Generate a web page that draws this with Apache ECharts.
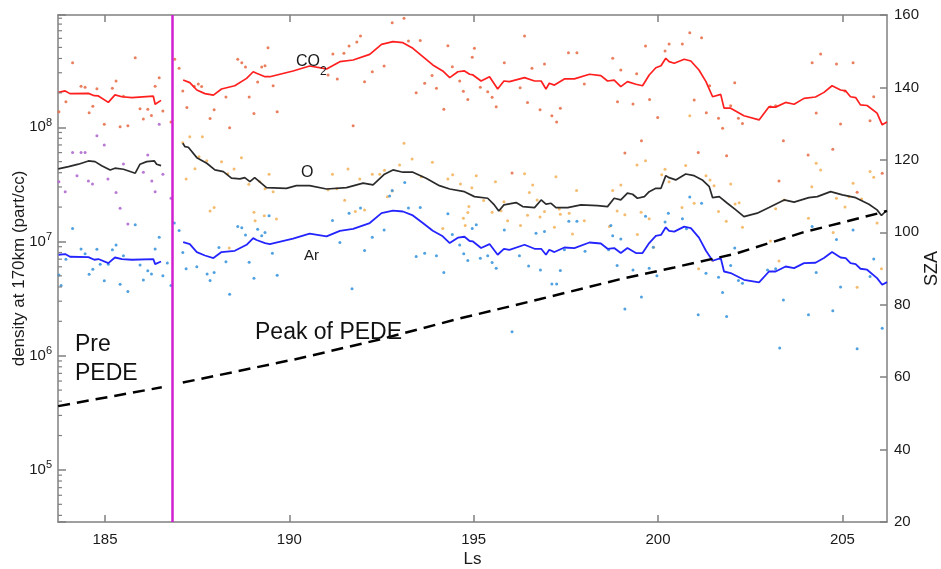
<!DOCTYPE html>
<html><head><meta charset="utf-8">
<script src="https://cdn.jsdelivr.net/npm/echarts@6/dist/echarts.min.js"></script>
<style>html,body{margin:0;padding:0;background:#fff}#c{width:941px;height:569px}</style>
</head><body><div id="c"></div>
<script>
// ---------- axis ranges / ticks ----------
const X_MIN = 183.725, X_MAX = 206.21;
const Y_MIN = 35010, Y_MAX = 9.61e8;
const SZA_MIN = 20, SZA_MAX = 160, SZA_STEP = 20;
const xTicks = [185, 190, 195, 200, 205];
const pedeStartLs = 186.82;

// ---------- smoothed lines (CO2 and Ar share Ls samples) ----------
const lineLs = [183.74,183.92,184.05,184.55,184.71,184.82,185.09,185.27,185.46,185.73,186.31,186.36,186.52,186.80,
187.12,187.30,187.49,187.71,187.94,188.16,188.52,188.84,189.02,189.11,189.34,189.47,190.10,190.55,191.01,191.37,191.73,
192.18,192.50,192.81,193.08,193.35,193.62,193.89,194.16,194.35,194.57,194.75,194.89,194.98,195.20,195.43,195.65,195.82,
195.97,196.38,196.65,196.83,196.96,197.05,197.19,197.46,197.73,198.14,198.45,198.63,198.81,198.99,199.17,199.40,199.58,
199.76,199.94,200.08,200.21,200.30,200.44,200.48,200.71,200.89,201.11,201.30,201.48,201.70,201.79,201.97,202.33,202.74,
203.01,203.19,203.46,203.69,203.96,204.27,204.50,204.72,204.95,205.09,205.22,205.36,205.49,205.67,205.94,206.08,206.21];
const co2Line = [2.02e8,2.08e8,1.97e8,1.98e8,1.89e8,1.88e8,1.65e8,1.92e8,1.85e8,1.82e8,1.87e8,1.59e8,1.72e8,null,
2.59e8,2.46e8,2.12e8,1.97e8,1.91e8,2.16e8,2.31e8,2.68e8,3.06e8,2.97e8,2.77e8,2.77e8,3.11e8,3.44e8,3.24e8,3.75e8,3.88e8,
4.35e8,5.32e8,5.61e8,5.50e8,4.91e8,4.15e8,3.51e8,3.11e8,2.72e8,3.06e8,3.11e8,2.91e8,2.87e8,2.54e8,2.77e8,2.16e8,2.54e8,
2.51e8,2.72e8,2.54e8,2.54e8,2.16e8,2.43e8,2.34e8,2.65e8,2.65e8,2.91e8,2.83e8,2.54e8,2.59e8,2.27e8,2.51e8,2.38e8,2.31e8,
2.87e8,3.32e8,3.46e8,4.02e8,3.75e8,3.63e8,3.56e8,3.94e8,3.80e8,3.17e8,2.51e8,1.85e8,1.94e8,1.47e8,1.47e8,1.26e8,1.16e8,
1.51e8,1.50e8,1.65e8,1.59e8,1.79e8,1.84e8,2.02e8,2.31e8,2.12e8,2.08e8,1.85e8,1.82e8,1.57e8,1.55e8,1.33e8,1.05e8,1.11e8];
const arLine = [7.65e6,7.76e6,7.35e6,7.30e6,6.92e6,7.02e6,6.47e6,7.24e6,7.02e6,6.92e6,7.02e6,6.34e6,6.68e6,null,
9.88e6,9.49e6,8.08e6,7.54e6,7.16e6,8.08e6,8.29e6,9.36e6,1.07e7,1.03e7,9.68e6,9.49e6,1.06e7,1.17e7,1.11e7,1.24e7,1.29e7,
1.45e7,1.77e7,1.86e7,1.83e7,1.69e7,1.45e7,1.24e7,1.11e7,9.68e6,1.08e7,1.10e7,1.01e7,1.00e7,8.76e6,9.49e6,7.65e6,8.63e6,
8.46e6,9.36e6,8.63e6,8.63e6,7.65e6,8.46e6,8.08e6,8.86e6,8.76e6,9.80e6,9.60e6,8.63e6,8.76e6,7.92e6,8.76e6,7.92e6,7.92e6,
9.68e6,1.12e7,1.14e7,1.33e7,1.24e7,1.22e7,1.21e7,1.35e7,1.31e7,1.08e7,8.29e6,6.78e6,7.16e6,5.46e6,5.29e6,4.62e6,4.38e6,
5.46e6,5.46e6,6.04e6,5.85e6,6.47e6,6.51e6,7.16e6,8.08e6,7.24e6,7.16e6,6.47e6,6.34e6,5.77e6,5.66e6,4.78e6,4.18e6,4.41e6];

const oLineLs = [183.73,184.01,184.28,184.55,184.73,184.91,185.14,185.27,185.50,185.82,185.95,186.13,186.34,186.40,186.52,186.80,
187.11,187.17,187.26,187.49,187.76,187.98,188.21,188.43,188.66,188.79,188.93,189.06,189.38,189.92,190.19,190.55,191.01,
191.55,192.00,192.27,192.58,192.81,193.08,193.35,193.71,194.07,194.35,194.75,195.02,195.38,195.56,195.68,195.82,196.15,
196.33,196.65,196.83,196.96,197.10,197.23,197.55,197.91,198.36,198.63,198.81,198.99,199.17,199.31,199.44,199.63,199.76,
199.94,200.08,200.21,200.30,200.48,200.75,200.98,201.20,201.39,201.48,201.66,201.88,202.11,202.33,202.69,203.01,203.42,
203.69,204.09,204.32,204.68,205.00,205.36,205.72,205.94,206.06,206.17];
const oLine = [4.32e7,4.52e7,4.75e7,5.07e7,5.00e7,4.61e7,4.23e7,4.38e7,4.29e7,3.96e7,4.75e7,5.00e7,5.07e7,4.75e7,4.61e7,null,
7.24e7,6.76e7,6.68e7,5.42e7,4.84e7,4.23e7,4.09e7,3.58e7,3.53e7,3.62e7,3.34e7,3.62e7,2.96e7,2.92e7,3.08e7,3.08e7,2.88e7,
2.96e7,3.24e7,3.13e7,3.88e7,4.23e7,4.04e7,4.04e7,3.58e7,3.08e7,2.88e7,2.73e7,2.47e7,2.39e7,2.09e7,1.85e7,2.09e7,2.19e7,
2.02e7,1.98e7,2.31e7,2.12e7,2.16e7,1.98e7,1.98e7,2.09e7,2.06e7,2.02e7,2.39e7,2.31e7,2.65e7,2.59e7,2.39e7,2.47e7,2.73e7,
2.92e7,2.92e7,3.77e7,3.62e7,3.46e7,3.90e7,3.77e7,3.46e7,3.02e7,2.42e7,2.47e7,2.16e7,1.89e7,1.65e7,1.77e7,1.98e7,2.31e7,
2.21e7,2.42e7,2.47e7,2.73e7,2.56e7,2.42e7,2.12e7,1.89e7,1.69e7,1.83e7];

// ---------- SZA (right axis) ----------
const szaLs = [183.73,186.54,186.80,187.11,190.28,192.45,194.62,196.78,198.95,200.44,202.11,203.91,206.08,206.21];
const sza   = [52.0,57.2,null,58.5,65.2,70.4,76.2,81.5,87.0,90.3,94.1,99.9,105.5,105.9];

// ---------- individual measurements ----------
const co2DotLs = [183.75,183.94,184.12,184.35,184.46,184.57,184.67,184.78,184.98,185.20,185.30,185.41,185.50,185.62,185.82,185.95,
186.04,186.16,186.26,186.36,186.47,186.57,186.79,186.89,187.01,187.11,187.22,187.42,187.53,187.62,187.85,187.96,188.28,188.38,
188.60,188.71,188.81,188.91,189.04,189.14,189.25,189.34,189.42,189.56,189.67,191.05,191.18,191.30,191.48,191.62,191.73,191.83,
191.93,192.04,192.25,192.57,192.79,193.11,193.23,193.44,193.55,193.67,193.87,193.99,194.19,194.30,194.42,194.62,194.72,194.84,
194.96,195.02,195.18,195.38,195.50,195.61,195.83,196.04,196.26,196.38,196.46,196.58,196.80,196.92,197.12,197.25,197.35,197.57,
197.80,198.00,198.77,198.90,198.99,199.10,199.32,199.42,199.55,199.66,199.77,199.99,200.19,200.30,200.66,200.86,200.98,201.09,
201.18,201.31,201.40,201.64,201.75,201.86,201.97,202.08,202.18,202.29,203.05,203.19,203.28,203.40,204.07,204.18,204.29,204.41,
204.74,204.84,204.95,205.07,205.29,205.40,205.75,205.85,206.08];
const co2DotVal = [1.37e8,1.67e8,3.67e8,2.29e8,2.24e8,1.34e8,1.53e8,2.17e8,1.06e8,2.20e8,2.54e8,1.01e8,1.87e8,1.03e8,4.06e8,1.45e8,
1.18e8,1.44e8,1.27e8,2.29e8,2.71e8,1.39e8,1.11e8,3.93e8,3.28e8,2.08e8,1.49e8,2.29e8,2.39e8,2.27e8,1.19e8,1.42e8,1.84e8,9.9e7,
3.93e8,3.67e8,3.37e8,1.84e8,1.32e8,2.49e8,3.37e8,3.46e8,4.97e8,2.31e8,1.37e8,2.87e8,4.38e8,2.64e8,4.45e8,5.15e8,1.03e8,5.57e8,
6.29e8,2.50e8,3.06e8,3.44e8,8.23e8,8.99e8,5.68e8,2.0e8,5.75e8,2.43e8,2.84e8,2.20e8,1.44e8,5.18e8,3.39e8,2.54e8,2.07e8,1.75e8,
4.10e8,4.92e8,2.24e8,2.05e8,1.83e8,1.51e8,3.67e8,3.98e7,2.22e8,6.29e8,1.65e8,3.28e8,1.42e8,3.58e8,1.26e8,1.11e8,1.47e8,4.50e8,
4.50e8,2.39e8,4.02e8,1.67e8,3.17e8,5.96e7,1.60e8,2.94e8,7.63e7,5.15e8,1.75e8,1.22e8,4.66e8,5.35e8,5.35e8,6.72e8,1.73e8,6.0e7,
6.07e8,1.34e8,2.31e8,1.20e8,9.8e7,5.64e7,1.54e8,2.45e8,1.20e8,1.08e8,1.51e8,1.54e8,3.39e7,7.63e7,5.72e7,3.67e8,1.33e8,4.38e8,
6.42e7,3.58e8,1.07e8,2.08e8,3.67e8,2.70e7,1.14e8,1.85e8,3.96e7];

const oPreDotLs = [183.75,183.92,184.12,184.24,184.35,184.46,184.55,184.66,184.78,184.98,185.08,185.30,185.41,185.50,185.62,
186.04,186.16,186.27,186.36,186.47,186.57,186.79];
const oPreDotVal = [3.34e7,2.73e7,6.0e7,3.77e7,6.0e7,6.0e7,3.39e7,3.19e7,8.44e7,7.0e7,3.53e7,2.68e7,1.95e7,4.77e7,1.42e7,
4.04e7,5.72e7,3.39e7,2.73e7,1.06e8,3.88e7,2.39e7];

const oDotLs = [187.11,187.20,187.30,187.44,187.55,187.64,187.76,187.85,187.96,188.16,188.33,188.37,188.50,188.70,188.90,189.04,
189.07,189.20,189.32,189.34,189.45,189.56,189.65,191.05,191.17,191.29,191.50,191.59,191.79,191.91,192.04,192.25,192.45,192.58,
192.66,192.79,192.99,193.11,193.33,193.58,193.88,194.16,194.30,194.43,194.64,194.72,194.77,194.84,194.87,194.95,195.07,195.27,
195.50,195.59,195.74,195.82,195.92,196.27,196.38,196.46,196.51,196.60,196.72,196.80,196.92,197.19,197.23,197.32,197.35,197.59,
197.68,197.79,198.00,198.68,198.77,198.89,198.99,199.10,199.43,199.44,199.54,199.66,199.76,199.88,200.10,200.19,200.30,200.65,
200.75,200.86,200.98,201.10,201.30,201.41,201.48,201.52,201.64,201.85,201.97,202.09,202.20,202.29,203.05,203.19,203.28,203.42,
204.08,204.17,204.29,204.41,204.75,204.84,205.07,205.18,205.29,205.40,205.52,205.75,205.85,205.94,206.06];
const oDotVal = [7.33e7,3.53e7,8.26e7,4.34e7,5.52e7,8.26e7,5.10e7,1.85e7,1.98e7,5.0e7,3.92e7,8.75e6,4.32e7,5.41e7,3.17e7,1.80e7,
1.52e7,3.34e7,1.68e7,2.89e7,3.88e7,2.73e7,1.57e7,2.83e7,3.88e7,2.89e7,2.30e7,4.32e7,1.83e7,3.53e7,1.89e7,3.88e7,3.88e7,4.20e7,
2.46e7,2.77e7,4.68e7,7.25e7,5.28e7,3.69e7,4.93e7,1.30e7,3.53e7,3.83e7,3.19e7,1.60e7,1.38e7,1.79e7,2.02e7,2.96e7,3.77e7,2.28e7,
1.80e7,3.34e7,1.86e7,2.23e7,1.52e7,1.38e7,3.92e7,1.70e7,2.68e7,3.13e7,2.31e7,1.64e7,1.83e7,1.33e7,3.69e7,1.92e7,1.73e7,1.77e7,
1.16e7,2.80e7,1.52e7,1.35e7,2.80e7,1.85e7,3.13e7,1.71e7,4.68e7,1.15e7,1.80e7,5.10e7,1.58e7,8.9e6,3.83e7,4.29e7,3.34e7,1.98e7,
4.62e7,1.26e8,2.16e7,5.76e6,3.77e7,3.46e7,6.80e6,3.08e7,1.83e7,1.50e7,3.19e7,2.13e7,2.18e7,1.33e7,1.01e7,1.93e7,6.76e6,2.31e7,
1.60e7,3.02e7,4.84e7,4.23e7,1.20e7,2.39e7,2.0e7,2.46e7,3.24e7,3.98e6,2.36e7,4.09e7,3.65e7,1.45e7,5.76e6];

const arDotLs = [183.75,183.81,183.94,184.12,184.35,184.46,184.57,184.67,184.78,184.87,184.98,185.09,185.20,185.30,185.41,185.50,
185.62,185.82,185.95,186.04,186.16,186.26,186.36,186.47,186.57,186.69,186.79,186.88,187.01,187.11,187.20,187.49,187.77,187.85,
187.96,188.09,188.28,188.38,188.60,188.71,188.81,188.91,189.04,189.14,189.25,189.34,189.45,189.54,189.67,191.17,191.37,191.62,
191.70,191.93,192.04,192.25,192.57,192.72,192.79,193.13,193.23,193.44,193.55,193.67,193.99,194.19,194.30,194.42,194.62,194.73,
194.84,194.96,195.07,195.18,195.38,195.50,195.61,195.83,196.04,196.24,196.49,196.69,196.81,196.92,197.12,197.25,197.35,197.46,
197.58,197.80,198.02,198.66,198.72,198.77,198.89,198.99,199.10,199.32,199.55,199.66,199.76,199.87,199.97,200.19,200.28,200.66,
200.77,200.86,201.09,201.18,201.30,201.64,201.75,201.86,201.97,202.08,202.18,202.29,202.97,203.19,203.30,203.40,204.08,204.18,
204.29,204.74,204.84,204.95,205.29,205.40,205.75,205.85,206.08];
const arDotVal = [5.1e6,4.11e6,7.0e6,1.30e7,8.6e6,7.8e6,5.17e6,5.72e6,8.57e6,6.33e6,4.52e6,6.33e6,8.45e6,9.3e6,4.22e6,7.5e6,
3.64e6,1.40e7,6.24e6,4.61e6,5.53e6,5.2e6,8.6e6,1.09e7,5.0e6,6.49e6,4.11e6,1.45e7,1.25e7,8.0e6,5.76e6,6.0e6,5.2e6,4.55e6,
5.34e6,8.85e6,6.63e6,3.46e6,1.35e7,1.32e7,1.14e7,6.59e6,4.77e6,1.28e7,1.12e7,1.20e7,1.68e7,7.9e6,5.07e6,1.53e7,9.8e6,1.77e7,
3.85e6,1.96e7,8.33e6,1.09e7,1.26e7,2.5e7,2.80e7,3.28e7,1.96e7,7.4e6,1.98e7,7.9e6,7.5e6,5.34e6,1.75e7,1.15e7,9.3e6,7.8e6,
6.8e6,1.30e7,1.40e7,7.14e6,7.5e6,6.53e6,5.84e6,1.26e7,1.62e6,7.5e6,6.1e6,1.18e7,5.64e6,1.22e7,4.25e6,4.25e6,5.56e6,8.45e6,
1.50e7,1.50e7,8.2e6,8.45e6,1.38e7,1.12e7,6.15e6,1.05e7,2.56e6,5.64e6,3.27e6,1.66e7,5.84e6,8.9e6,5.0e6,1.48e7,1.77e7,1.58e7,
1.29e7,2.45e7,2.28e6,2.16e7,5.27e6,4.87e6,3.57e6,2.20e6,6.15e6,8.75e6,4.55e6,4.31e6,5.64e6,5.76e6,1.17e6,3.08e6,2.28e6,1.35e7,
5.34e6,2.47e6,1.04e7,3.99e6,1.26e7,1.15e6,4.93e6,7.04e6,1.74e6];

// ---------- build ----------
const FONT = '"Liberation Sans", Arial, Helvetica, sans-serif';
const AXC = '#808080', TXT = '#1a1a1a';
function zip(xs, ys) { return xs.map((x, i) => [x, ys[i] === null ? '-' : ys[i]]); }

// minor log ticks (2..9 per decade) inside range
const minorTicks = [];
[1e4, 1e5, 1e6, 1e7, 1e8].forEach(d => { for (let m = 2; m <= 9; m++) { const v = m * d; if (v > Y_MIN && v < Y_MAX) minorTicks.push([X_MIN, v]); } });

const chart = echarts.init(document.getElementById('c'), null, { renderer: 'canvas' });
const dot = (name, xs, ys, color) => ({
  name, type: 'scatter', xAxisIndex: 0, yAxisIndex: 0, data: zip(xs, ys), symbol: 'circle', symbolSize: 3,
  itemStyle: { color, opacity: 0.9 }, silent: true, z: 2
});
const line = (name, xs, ys, color, w) => ({
  name, type: 'line', xAxisIndex: 0, yAxisIndex: 0, data: zip(xs, ys), showSymbol: false, symbol: 'none',
  connectNulls: false, lineStyle: { color, width: w }, itemStyle: { color }, silent: true, z: 3
});

chart.setOption({
  animation: false,
  backgroundColor: '#fff',
  grid: { left: 58, right: 54, top: 15, bottom: 47, containLabel: false, outerBoundsMode: 'none' },
  xAxis: [{
    type: 'value', min: X_MIN, max: X_MAX, position: 'bottom',
    axisLine: { show: true, onZero: false, lineStyle: { color: AXC, width: 1.5 } },
    axisTick: { show: true, inside: true, length: 7, customValues: xTicks, lineStyle: { color: AXC, width: 1.5 } },
    axisLabel: { show: true, customValues: xTicks, color: TXT, fontSize: 15, fontFamily: FONT, margin: 10 },
    splitLine: { show: false },
    name: 'Ls', nameLocation: 'middle', nameGap: 29, nameMoveOverlap: false,
    nameTextStyle: { fontSize: 17, color: TXT, fontFamily: FONT }
  }, {
    type: 'value', min: X_MIN, max: X_MAX, position: 'top',
    axisLine: { show: true, onZero: false, lineStyle: { color: AXC, width: 1.5 } },
    axisTick: { show: true, inside: true, length: 7, customValues: xTicks, lineStyle: { color: AXC, width: 1.5 } },
    axisLabel: { show: false }, splitLine: { show: false }
  }],
  yAxis: [{
    type: 'log', logBase: 10, min: Y_MIN, max: Y_MAX, position: 'left',
    axisLine: { show: true, onZero: false, lineStyle: { color: AXC, width: 1.5 } },
    axisTick: { show: true, inside: true, length: 8, lineStyle: { color: AXC, width: 1.5 } },
    axisLabel: {
      show: true, color: TXT, fontFamily: FONT, margin: 6,
      formatter: v => { const e = Math.log10(v), r = Math.round(e); return Math.abs(e - r) < 1e-6 ? '{b|10}{s|' + r + '}' : ''; },
      rich: { b: { fontSize: 15, lineHeight: 20, fontFamily: FONT, color: TXT }, s: { fontSize: 11, lineHeight: 12, verticalAlign: 'top', fontFamily: FONT, color: TXT } }
    },
    splitLine: { show: false }, minorTick: { show: false },
    name: 'density at 170km (part/cc)', nameLocation: 'middle', nameGap: 30, nameRotate: 90, nameMoveOverlap: false,
    nameTextStyle: { fontSize: 17, color: TXT, fontFamily: FONT }
  }, {
    type: 'value', min: SZA_MIN, max: SZA_MAX, interval: SZA_STEP, position: 'right',
    axisLine: { show: true, onZero: false, lineStyle: { color: AXC, width: 1.5 } },
    axisTick: { show: true, inside: true, length: 7, lineStyle: { color: AXC, width: 1.5 } },
    axisLabel: { show: true, color: TXT, fontSize: 15, fontFamily: FONT, margin: 7 },
    splitLine: { show: false },
    name: 'SZA', nameLocation: 'middle', nameGap: 36, nameRotate: 90, nameMoveOverlap: false,
    nameTextStyle: { fontSize: 18, color: TXT, fontFamily: FONT }
  }],
  series: [
    dot('CO2 obs', co2DotLs, co2DotVal, '#e8714c'),
    dot('O obs pre', oPreDotLs, oPreDotVal, '#b06ad0'),
    dot('O obs', oDotLs, oDotVal, '#f4b560'),
    dot('Ar obs', arDotLs, arDotVal, '#3d97de'),
    line('CO2', lineLs, co2Line, '#ff1f1f', 1.7),
    line('O', oLineLs, oLine, '#2b2b2b', 1.7),
    line('Ar', lineLs, arLine, '#2424ff', 1.8),
    {
      name: 'SZA', type: 'line', xAxisIndex: 0, yAxisIndex: 1, data: zip(szaLs, sza), showSymbol: false, symbol: 'none',
      connectNulls: false, lineStyle: { color: '#000', width: 2.5, type: [12, 7] }, silent: true, z: 4,
      markLine: {
        symbol: 'none', silent: true, label: { show: false }, animation: false,
        lineStyle: { color: '#d21fd2', width: 2.5, type: 'solid' }, emphasis: { disabled: true },
        data: [{ xAxis: pedeStartLs }]
      }
    },
    {
      name: 'minorTicks', type: 'custom', xAxisIndex: 0, yAxisIndex: 0, data: minorTicks, silent: true, z: 5,
      renderItem: (params, api) => {
        const p = api.coord([api.value(0), api.value(1)]);
        return { type: 'line', shape: { x1: p[0], y1: p[1], x2: p[0] + 4, y2: p[1] }, style: { stroke: AXC, lineWidth: 1.2 } };
      }
    }
  ],
  graphic: [
    { type: 'text', x: 296, y: 62, style: { text: 'CO', fontSize: 16, fontFamily: FONT, fill: TXT, verticalAlign: 'middle' }, z: 10 },
    { type: 'text', x: 320, y: 72, style: { text: '2', fontSize: 12, fontFamily: FONT, fill: TXT, verticalAlign: 'middle' }, z: 10 },
    { type: 'text', x: 301, y: 173, style: { text: 'O', fontSize: 16, fontFamily: FONT, fill: TXT, verticalAlign: 'middle' }, z: 10 },
    { type: 'text', x: 304, y: 256, style: { text: 'Ar', fontSize: 15, fontFamily: FONT, fill: TXT, verticalAlign: 'middle' }, z: 10 },
    { type: 'text', x: 75, y: 345, style: { text: 'Pre', fontSize: 23, fontFamily: FONT, fill: '#111', verticalAlign: 'middle' }, z: 10 },
    { type: 'text', x: 75, y: 374, style: { text: 'PEDE', fontSize: 23, fontFamily: FONT, fill: '#111', verticalAlign: 'middle' }, z: 10 },
    { type: 'text', x: 255, y: 333, style: { text: 'Peak of PEDE', fontSize: 23, fontFamily: FONT, fill: '#111', verticalAlign: 'middle' }, z: 10 }
  ]
});
</script></body></html>
